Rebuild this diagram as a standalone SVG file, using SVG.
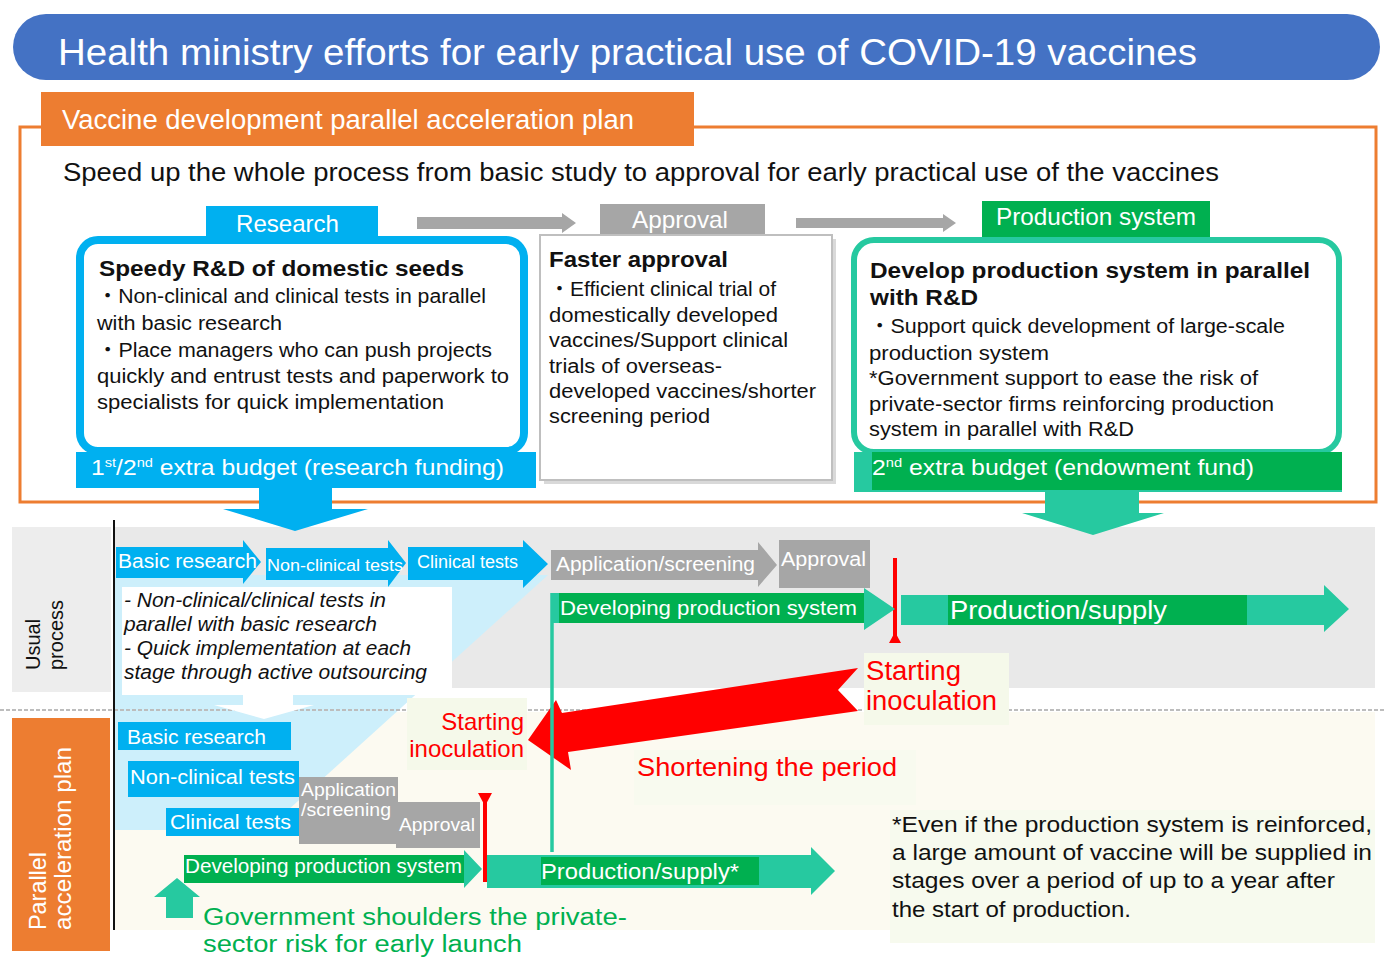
<svg xmlns="http://www.w3.org/2000/svg" width="1392" height="958" viewBox="0 0 1392 958">
<defs>
<style>
text{font-family:"Liberation Sans",Arial,"Noto Sans CJK JP",sans-serif;}
.w{fill:#fff}
.k{fill:#111}
.b{font-weight:bold}
.i{font-style:italic}
.r{fill:#ff0000}
.g{fill:#00b050}
.blue{fill:#00b0f0}
.grn{fill:#00b050}
.teal{fill:#26c9a0}
.gray{fill:#a6a6a6}
</style>
</defs>
<rect width="1392" height="958" fill="#fff"/>

<!-- header -->
<g id="header">
<rect x="13" y="14" width="1367" height="66" rx="33" fill="#4472c4"/>
<text x="58" y="65" font-size="37" class="w" textLength="1139" lengthAdjust="spacingAndGlyphs">Health ministry efforts for early practical use of COVID-19 vaccines</text>
</g>

<!-- orange frame -->
<g id="plan-frame">
<rect x="20" y="127" width="1356" height="375" fill="none" stroke="#ed7d31" stroke-width="3"/>
<rect x="41" y="92" width="653" height="54" fill="#ed7d31"/>
<text x="62" y="129" font-size="27" class="w" textLength="572" lengthAdjust="spacingAndGlyphs">Vaccine development parallel acceleration plan</text>
<text x="63" y="181" font-size="25" class="k" textLength="1156" lengthAdjust="spacingAndGlyphs">Speed up the whole process from basic study to approval for early practical use of the vaccines</text>
</g>

<!-- lower backgrounds -->
<g id="backgrounds">
<rect x="12" y="527" width="99" height="165" fill="#ededed"/>
<rect x="114" y="527" width="1261" height="161" fill="#e9e9e9"/>
<rect x="114" y="712" width="1261" height="218" fill="#fcfaf1"/>
<polygon points="114,575 548,575 266,830 114,830" fill="#cdeffb"/>
<line x1="0" y1="710" x2="1385" y2="710" stroke="#bdbdbd" stroke-width="2" stroke-dasharray="4,2"/>
<line x1="114" y1="520" x2="114" y2="930" stroke="#111" stroke-width="2"/>
</g>

<!-- connectors -->
<g id="connectors">
<polygon points="417,217 562,217 562,213 576,223 562,233 562,229 417,229" fill="#a6a6a6"/>
<polygon points="796,218 943,218 943,214 956,223 943,232 943,228 796,228" fill="#a6a6a6"/>
<polygon points="259,486 332,486 332,509 368,509 295,531 223,509 259,509" fill="#00b0f0"/>
<polygon points="1045,490 1139,490 1139,513 1164,513 1093,535 1022,513 1045,513" fill="#26c9a0"/>
<polygon points="243,692 293,692 293,705 314,705 264,719 214,705 243,705" fill="#fff"/>
<polygon points="858,668 838,690 858,711 568,752 571,770 528,740 556,700 562,713" fill="#ff0000"/>
<line x1="552" y1="593" x2="552" y2="852" stroke="#26c9a0" stroke-width="3.5"/>
<line x1="895" y1="558" x2="895" y2="642" stroke="#ff0000" stroke-width="4"/>
<polygon points="889,643 901,643 895,632" fill="#ff0000"/>
<line x1="485" y1="795" x2="485" y2="882" stroke="#ff0000" stroke-width="4"/>
<polygon points="478,793 492,793 485,806" fill="#ff0000"/>
<polygon points="166,918 193,918 193,897 200,897 177,878 154,897 166,897" fill="#26c9a0"/>
</g>

<!-- research -->
<g id="research">
<rect x="206" y="206" width="172" height="32" class="blue"/>
<text x="236" y="232" font-size="24" class="w" textLength="103" lengthAdjust="spacingAndGlyphs">Research</text>
<rect x="80" y="240" width="444" height="211" rx="18" fill="#fff" stroke="#00b0f0" stroke-width="8"/>
<text x="99" y="276" font-size="22" class="k b" textLength="365" lengthAdjust="spacingAndGlyphs">Speedy R&amp;D of domestic seeds</text>
<text x="97" y="303" font-size="20" class="k" textLength="389" lengthAdjust="spacingAndGlyphs">・Non-clinical and clinical tests in parallel</text>
<text x="97" y="330" font-size="20" class="k" textLength="185" lengthAdjust="spacingAndGlyphs">with basic research</text>
<text x="97" y="357" font-size="20" class="k" textLength="395" lengthAdjust="spacingAndGlyphs">・Place managers who can push projects</text>
<text x="97" y="383" font-size="20" class="k" textLength="412" lengthAdjust="spacingAndGlyphs">quickly and entrust tests and paperwork to</text>
<text x="97" y="409" font-size="20" class="k" textLength="347" lengthAdjust="spacingAndGlyphs">specialists for quick implementation</text>
<rect x="76" y="452" width="460" height="36" class="blue"/>
<text x="91" y="475" font-size="22" class="w" textLength="413" lengthAdjust="spacingAndGlyphs">1<tspan font-size="13" dy="-8">st</tspan><tspan dy="8">/2</tspan><tspan font-size="13" dy="-8">nd</tspan><tspan dy="8"> extra budget (research funding)</tspan></text>
</g>

<!-- approval -->
<g id="approval">
<rect x="600" y="204" width="165" height="31" class="gray"/>
<text x="632" y="228" font-size="24" class="w" textLength="96" lengthAdjust="spacingAndGlyphs">Approval</text>
<rect x="544" y="239" width="292" height="245" fill="#d9d9d9"/>
<rect x="540" y="235" width="292" height="245" fill="#fff" stroke="#bfbfbf" stroke-width="2"/>
<text x="549" y="267" font-size="22" class="k b" textLength="179" lengthAdjust="spacingAndGlyphs">Faster approval</text>
<text x="549" y="296" font-size="20" class="k" textLength="227" lengthAdjust="spacingAndGlyphs">・Efficient clinical trial of</text>
<text x="549" y="322" font-size="20" class="k" textLength="229" lengthAdjust="spacingAndGlyphs">domestically developed</text>
<text x="549" y="347" font-size="20" class="k" textLength="239" lengthAdjust="spacingAndGlyphs">vaccines/Support clinical</text>
<text x="549" y="373" font-size="20" class="k" textLength="173" lengthAdjust="spacingAndGlyphs">trials of overseas-</text>
<text x="549" y="398" font-size="20" class="k" textLength="267" lengthAdjust="spacingAndGlyphs">developed vaccines/shorter</text>
<text x="549" y="423" font-size="20" class="k" textLength="161" lengthAdjust="spacingAndGlyphs">screening period</text>
</g>

<!-- production -->
<g id="production">
<rect x="982" y="201" width="228" height="36" class="grn"/>
<text x="996" y="225" font-size="24" class="w" textLength="200" lengthAdjust="spacingAndGlyphs">Production system</text>
<rect x="854" y="240" width="485" height="212" rx="20" fill="#fff" stroke="#26c9a0" stroke-width="6"/>
<text x="870" y="278" font-size="22" class="k b" textLength="440" lengthAdjust="spacingAndGlyphs">Develop production system in parallel</text>
<text x="870" y="305" font-size="22" class="k b" textLength="108" lengthAdjust="spacingAndGlyphs">with R&amp;D</text>
<text x="869" y="333" font-size="20" class="k" textLength="416" lengthAdjust="spacingAndGlyphs">・Support quick development of large-scale</text>
<text x="869" y="360" font-size="20" class="k" textLength="180" lengthAdjust="spacingAndGlyphs">production system</text>
<text x="869" y="385" font-size="20" class="k" textLength="389" lengthAdjust="spacingAndGlyphs">*Government support to ease the risk of</text>
<text x="869" y="411" font-size="20" class="k" textLength="405" lengthAdjust="spacingAndGlyphs">private-sector firms reinforcing production</text>
<text x="869" y="436" font-size="20" class="k" textLength="265" lengthAdjust="spacingAndGlyphs">system in parallel with R&amp;D</text>
<rect x="854" y="452" width="488" height="40" class="teal"/>
<rect x="872" y="452" width="470" height="38" class="grn"/>
<text x="872" y="475" font-size="22" class="w" textLength="382" lengthAdjust="spacingAndGlyphs">2<tspan font-size="13" dy="-8">nd</tspan><tspan dy="8"> extra budget (endowment fund)</tspan></text>
</g>

<!-- usual process -->
<g id="usual-label">
<text transform="translate(40,670) rotate(-90)" font-size="20" class="k">Usual</text>
<text transform="translate(63,670) rotate(-90)" font-size="20" class="k">process</text>
</g>
<g id="usual-basic-research">
<polygon points="116,547 243,547 243,540 261,562 243,584 243,578 116,578" class="blue"/>
<text x="118" y="568" font-size="20" class="w" textLength="139" lengthAdjust="spacingAndGlyphs">Basic research</text>
</g>
<g id="usual-nonclinical">
<polygon points="266,548 388,548 388,540 406,563 388,587 388,580 266,580" class="blue"/>
<text x="267" y="571" font-size="17" class="w" textLength="136" lengthAdjust="spacingAndGlyphs">Non-clinical tests</text>
</g>
<g id="usual-clinical">
<polygon points="408,547 523,547 523,540 548,564 523,588 523,580 408,580" class="blue"/>
<text x="417" y="568" font-size="18" class="w" textLength="101" lengthAdjust="spacingAndGlyphs">Clinical tests</text>
</g>
<g id="usual-note">
<rect x="122" y="587" width="330" height="108" fill="#fff"/>
<text x="124" y="607" font-size="20" class="k i" textLength="262" lengthAdjust="spacingAndGlyphs">- Non-clinical/clinical tests in</text>
<text x="124" y="631" font-size="20" class="k i" textLength="253" lengthAdjust="spacingAndGlyphs">parallel with basic research</text>
<text x="124" y="655" font-size="20" class="k i" textLength="287" lengthAdjust="spacingAndGlyphs">- Quick implementation at each</text>
<text x="124" y="679" font-size="20" class="k i" textLength="303" lengthAdjust="spacingAndGlyphs">stage through active outsourcing</text>
</g>
<g id="usual-application">
<polygon points="551,550 758,550 758,542 777,565 758,587 758,580 551,580" class="gray"/>
<text x="556" y="571" font-size="20" class="w" textLength="199" lengthAdjust="spacingAndGlyphs">Application/screening</text>
</g>
<g id="usual-approval">
<rect x="779" y="540" width="91" height="48" class="gray"/>
<text x="781" y="566" font-size="20" class="w" textLength="85" lengthAdjust="spacingAndGlyphs">Approval</text>
</g>
<g id="usual-developing">
<polygon points="552,593 864,593 864,588 895,609 864,630 864,623 552,623" class="teal"/>
<rect x="559" y="593" width="305" height="30" class="grn"/>
<text x="560" y="615" font-size="20" class="w" textLength="297" lengthAdjust="spacingAndGlyphs">Developing production system</text>
</g>
<g id="usual-production">
<polygon points="901,595 1324,595 1324,585 1349,609 1324,632 1324,625 901,625" class="teal"/>
<rect x="948" y="595" width="299" height="30" class="grn"/>
<text x="950" y="619" font-size="26" class="w" textLength="217" lengthAdjust="spacingAndGlyphs">Production/supply</text>
</g>
<g id="usual-starting">
<rect x="864" y="653" width="145" height="72" fill="#f5f9ea"/>
<text x="866" y="680" font-size="27" class="r" textLength="95" lengthAdjust="spacingAndGlyphs">Starting</text>
<text x="866" y="710" font-size="27" class="r" textLength="131" lengthAdjust="spacingAndGlyphs">inoculation</text>
</g>

<!-- parallel acceleration -->
<g id="parallel-label">
<rect x="12" y="718" width="98" height="233" fill="#ed7d31"/>
<text transform="translate(46,930) rotate(-90)" font-size="24" class="w" textLength="78" lengthAdjust="spacingAndGlyphs">Parallel</text>
<text transform="translate(71,930) rotate(-90)" font-size="24" class="w" textLength="183" lengthAdjust="spacingAndGlyphs">acceleration plan</text>
</g>
<g id="par-basic-research">
<rect x="118" y="722" width="173" height="28" class="blue"/>
<text x="127" y="744" font-size="21" class="w" textLength="139" lengthAdjust="spacingAndGlyphs">Basic research</text>
</g>
<g id="par-nonclinical">
<rect x="128" y="761" width="171" height="36" class="blue"/>
<text x="130" y="784" font-size="21" class="w" textLength="165" lengthAdjust="spacingAndGlyphs">Non-clinical tests</text>
</g>
<g id="par-clinical">
<rect x="166" y="808" width="134" height="28" class="blue"/>
<text x="170" y="829" font-size="21" class="w" textLength="121" lengthAdjust="spacingAndGlyphs">Clinical tests</text>
</g>
<g id="par-application">
<rect x="299" y="777" width="99" height="67" class="gray"/>
<text x="301" y="796" font-size="19" class="w" textLength="95" lengthAdjust="spacingAndGlyphs">Application</text>
<text x="301" y="816" font-size="19" class="w" textLength="90" lengthAdjust="spacingAndGlyphs">/screening</text>
</g>
<g id="par-approval">
<rect x="396" y="802" width="84" height="46" class="gray"/>
<text x="399" y="831" font-size="19" class="w" textLength="76" lengthAdjust="spacingAndGlyphs">Approval</text>
</g>
<g id="par-starting">
<rect x="407" y="698" width="120" height="72" fill="#f5f9ea"/>
<text x="524" y="730" font-size="24" class="r" text-anchor="end">Starting</text>
<text x="524" y="757" font-size="24" class="r" text-anchor="end">inoculation</text>
</g>
<g id="par-developing">
<polygon points="184,855 464,855 464,850 482,869 464,888 464,883 184,883" class="teal"/>
<rect x="184" y="855" width="280" height="28" class="grn"/>
<text x="185" y="873" font-size="20" class="w" textLength="277" lengthAdjust="spacingAndGlyphs">Developing production system</text>
</g>
<g id="par-production">
<polygon points="487,855 811,855 811,847 835,871 811,895 811,888 487,888" class="teal"/>
<rect x="541" y="857" width="218" height="28" class="grn"/>
<text x="541" y="879" font-size="22" class="w" textLength="198" lengthAdjust="spacingAndGlyphs">Production/supply*</text>
</g>
<g id="shortening">
<rect x="634" y="750" width="282" height="55" fill="#f8faef"/>
<text x="637" y="776" font-size="26" class="r" textLength="260" lengthAdjust="spacingAndGlyphs">Shortening the period</text>
</g>
<g id="government">
<text x="203" y="925" font-size="23" class="g" textLength="424" lengthAdjust="spacingAndGlyphs">Government shoulders the private-</text>
<text x="203" y="952" font-size="23" class="g" textLength="319" lengthAdjust="spacingAndGlyphs">sector risk for early launch</text>
</g>
<g id="note">
<rect x="890" y="810" width="485" height="133" fill="#f7faee"/>
<text x="892" y="832" font-size="22" class="k" textLength="480" lengthAdjust="spacingAndGlyphs">*Even if the production system is reinforced,</text>
<text x="892" y="860" font-size="22" class="k" textLength="480" lengthAdjust="spacingAndGlyphs">a large amount of vaccine will be supplied in</text>
<text x="892" y="888" font-size="22" class="k" textLength="443" lengthAdjust="spacingAndGlyphs">stages over a period of up to a year after</text>
<text x="892" y="917" font-size="22" class="k" textLength="239" lengthAdjust="spacingAndGlyphs">the start of production.</text>
</g>
</svg>
